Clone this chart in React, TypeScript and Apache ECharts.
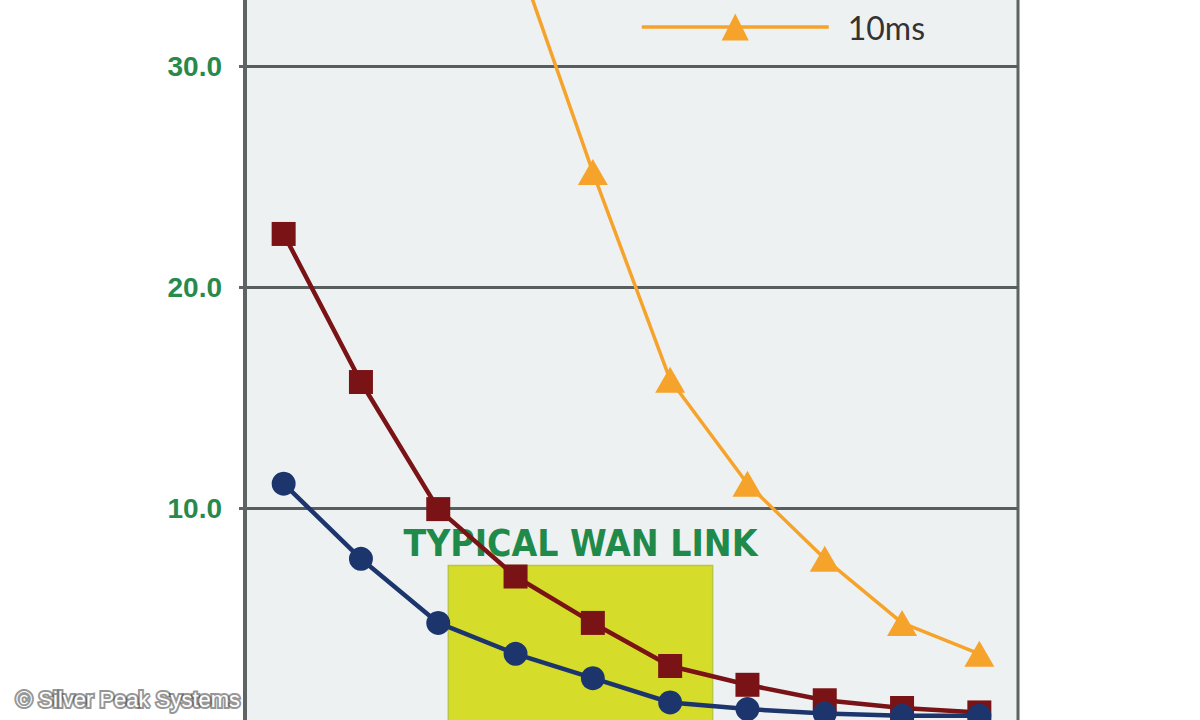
import React, { useEffect, useRef } from "react";
import * as echarts from "echarts";

// ---- data ----
const categories = ["1", "2", "3", "4", "5", "6", "7", "8", "9", "10"];
const blueValues = [11.1, 7.7, 4.8, 3.4, 2.3, 1.2, 0.9, 0.7, 0.6, 0.6];
const redValues = [22.4, 15.7, 9.95, 6.9, 4.8, 2.85, 2.0, 1.3, 0.95, 0.75];
const orangeValues = [112, 72, 50, 35.2, 25.2, 15.8, 11.1, 7.7, 4.8, 3.4];
const seriesNames = ["1ms", "5ms", "10ms"];
const yMin = 0;
const yMax = 40;
const yInterval = 10;
// annotation box "TYPICAL WAN LINK" (x in category-index units, y in value units)
const wanLinkX = [2.13, 5.55];
const wanLinkY = [0, 7.4];
const wanLinkLabel = "TYPICAL WAN LINK";
const copyrightText = "© Silver Peak Systems";

export default function App() {
  const ref = useRef<HTMLDivElement>(null);

  useEffect(() => {
    const chart = echarts.init(ref.current as HTMLDivElement, null, { renderer: "svg" });
    const green = "#28894b";
    const axisGray = "#5e6363";
    chart.setOption({
      animation: false,
      backgroundColor: "#ffffff",
      grid: {
        left: 245,
        right: 182,
        top: 45,
        bottom: 71,
        show: true,
        backgroundColor: "#eef1f2",
        borderColor: axisGray,
        borderWidth: 3,
      },
      legend: {
        data: [seriesNames[2]],
        left: 640,
        top: 211,
        padding: 0,
        itemWidth: 187,
        itemHeight: 34,
        selectedMode: false,
        lineStyle: { width: 3.5 },
        textStyle: {
          fontSize: 32,
          color: "#333333",
          fontFamily: "Lato, 'Open Sans', sans-serif",
          padding: [0, 0, 0, 14],
        },
      },
      xAxis: [
        {
          type: "category",
          data: categories,
          boundaryGap: true,
          axisLine: { show: false },
          axisTick: { show: false },
          axisLabel: { show: false },
          splitLine: { show: false },
        },
        {
          type: "value",
          min: -0.5,
          max: categories.length - 0.5,
          show: false,
          splitLine: { show: false },
        },
      ],
      yAxis: {
        type: "value",
        min: yMin,
        max: yMax,
        interval: yInterval,
        axisLine: { show: true, onZero: false, lineStyle: { color: axisGray, width: 4 } },
        axisTick: { show: true, length: 6, lineStyle: { color: axisGray, width: 3 } },
        axisLabel: {
          margin: 23,
          color: green,
          fontSize: 28,
          fontWeight: "bold",
          showMaxLabel: false,
          fontFamily: "'Liberation Sans', Arial, sans-serif",
          formatter: (v: number) => v.toFixed(1),
        },
        splitLine: { show: true, lineStyle: { color: "#585d5d", width: 3 } },
      },
      series: [
        {
          type: "line",
          name: "wan",
          xAxisIndex: 1,
          yAxisIndex: 0,
          data: [],
          silent: true,
          z: 1,
          markArea: {
            silent: true,
            itemStyle: { color: "#d5dc2a", borderColor: "#b9c83e", borderWidth: 1.5 },
            label: {
              show: true,
              position: "top",
              distance: 3,
              color: "#1f8a4a",
              fontSize: 37,
              fontWeight: "bold",
              fontFamily: "'Liberation Sans Narrow', 'DejaVu Sans Condensed', 'Liberation Sans', sans-serif",
            },
            data: [
              [
                { name: wanLinkLabel, coord: [wanLinkX[0], wanLinkY[1]] },
                { coord: [wanLinkX[1], wanLinkY[0]] },
              ],
            ],
          },
        },
        {
          type: "line",
          name: seriesNames[1],
          data: redValues,
          symbol: "rect",
          symbolSize: 24,
          z: 3,
          lineStyle: { color: "#7a1316", width: 4.5 },
          itemStyle: { color: "#7a1316" },
        },
        {
          type: "line",
          name: seriesNames[0],
          data: blueValues,
          symbol: "circle",
          symbolSize: 24,
          z: 4,
          lineStyle: { color: "#1d356d", width: 4.5 },
          itemStyle: { color: "#1d356d" },
        },
        {
          type: "line",
          name: seriesNames[2],
          data: orangeValues,
          symbol: "triangle",
          symbolSize: [30, 26],
          z: 5,
          lineStyle: { color: "#f6a32b", width: 3.5 },
          itemStyle: { color: "#f6a32b" },
        },
      ],
      graphic: [
        {
          type: "text",
          left: 14,
          top: 886,
          z: 100,
          style: {
            text: copyrightText,
            fill: "#ffffff",
            fontSize: 22,
            fontFamily: "'Liberation Sans', Arial, sans-serif",
            stroke: "rgba(60,60,60,0.55)",
            lineWidth: 4,
            strokeFirst: true,
          },
        },
      ],
    });
    return () => chart.dispose();
  }, []);

  return (
    <div
      style={{
        position: "fixed",
        left: 0,
        top: -200,
        width: 1200,
        height: 1000,
        background: "#ffffff",
      }}
    >
      <div ref={ref} style={{ width: 1200, height: 1000 }} />
    </div>
  );
}
